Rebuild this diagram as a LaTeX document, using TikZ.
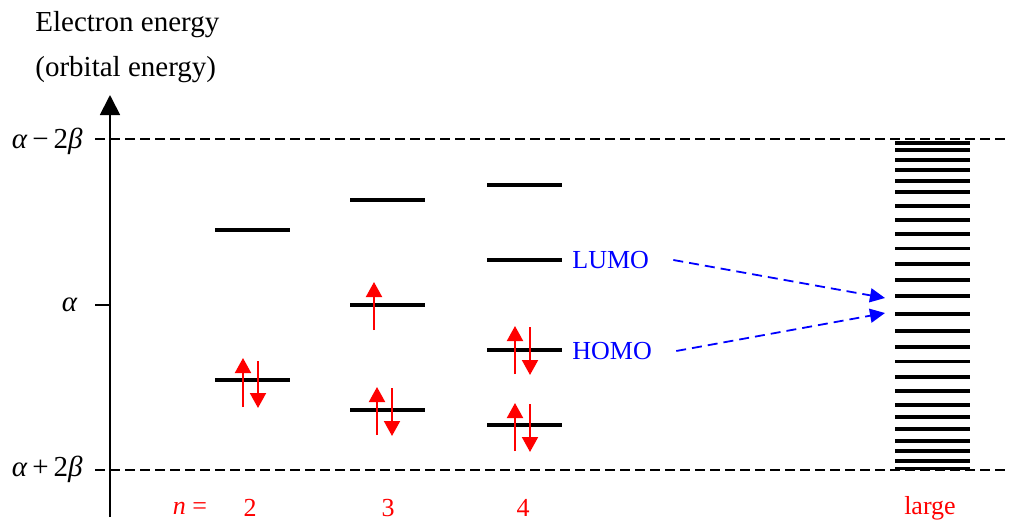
\documentclass[tikz,border=0pt]{standalone}
\usepackage{fontspec}
\setmainfont{Liberation Serif}
\usetikzlibrary{positioning, arrows.meta}

\begin{document}
\begin{tikzpicture}[
    x=0.5pt, y=-0.5pt,
    level/.style={line width=1.8pt},
    guide/.style={dash pattern=on 5pt off 2.5pt, line width=0.7pt},
    spin/.style={red, line width=1pt, -{Triangle[length=7.5pt, width=8pt]}},
    hint/.style={blue, dash pattern=on 5pt off 3pt, line width=0.9pt,
                 -{Triangle[length=7.5pt, width=7pt]}},
    lab/.style={font=\fontsize{13}{15}\selectfont, inner sep=0pt},
    sym/.style={font=\fontsize{14.5}{17}\selectfont, inner sep=0pt, anchor=east},
    head/.style={font=\fontsize{14.5}{17}\selectfont, inner sep=0pt, anchor=west}
  ]
    \useasboundingbox (0,0) rectangle (1019,520);

    % axis and reference lines
    \coordinate (axisbot) at (110,517);
    \coordinate (axistop) at (110,95);
    \draw[line width=0.9pt, -{Triangle[length=10pt, width=10pt]}] (axisbot) -- (axistop);
    \draw[guide] (95,139) -- (1005,139);
    \draw[guide] (95,470) -- (1005,470);
    \draw[line width=0.8pt] (95,305) -- (110,305);

    \node[head] (title) at (35,25) {Electron energy};
    \node[head] (subtitle) at (35,70) {(orbital energy)};
    \node[sym] (top) at (83,141) {\textit{α}\,−\,2\textit{β}};
    \node[sym] (mid) at (78,305) {\textit{α}};
    \node[sym] (bottom) at (83,469) {\textit{α}\,+\,2\textit{β}};

    % n = 2
    \draw[level] (215,230) -- (290,230);
    \draw[level] (215,380) -- (290,380);
    \draw[spin] (243,407) -- (243,358);
    \draw[spin] (258,361) -- (258,408);

    % n = 3
    \draw[level] (350,200) -- (425,200);
    \draw[level] (350,305) -- (425,305);
    \draw[level] (350,410) -- (425,410);
    \draw[spin] (374,330) -- (374,282);
    \draw[spin] (377,435) -- (377,387);
    \draw[spin] (392,388) -- (392,436);

    % n = 4
    \draw[level] (487,185) -- (562,185);
    \draw[level] (487,260) -- (562,260);
    \draw[level] (487,350) -- (562,350);
    \draw[level] (487,425) -- (562,425);
    \draw[spin] (515,374) -- (515,326);
    \draw[spin] (530,327) -- (530,375);
    \draw[spin] (515,451) -- (515,403);
    \draw[spin] (530,404) -- (530,452);

    % band for large n
    \foreach \y in {142.7,150,160,170,181,192,205.7,219.7,233.7,248.3,263.7,280,295.7,
                    314,331,347,361.3,377,391,405,417,429,440.7,451,461,468.3}
      \draw[line width=1.8pt] (895,\y) -- (970,\y);

    \node[lab, blue, anchor=west] (lumo) at (572,260) {LUMO};
    \node[lab, blue, anchor=west] (homo) at (572,351) {HOMO};
    \coordinate (lumoend) at (885,298);
    \coordinate (homoend) at (885,313);
    \draw[hint] ([xshift=12pt]lumo.east) -- (lumoend);
    \draw[hint] ([xshift=12pt]homo.east) -- (homoend);

    \node[lab, red] (nlab) at (190,508) {\textit{n} =};
    \node[lab, red] (n2) at (250,508) {2};
    \node[lab, red] (n3) at (388,508) {3};
    \node[lab, red] (n4) at (523,508) {4};
    \node[lab, red] (nlarge) at (930,508) {large};
\end{tikzpicture}
\end{document}
